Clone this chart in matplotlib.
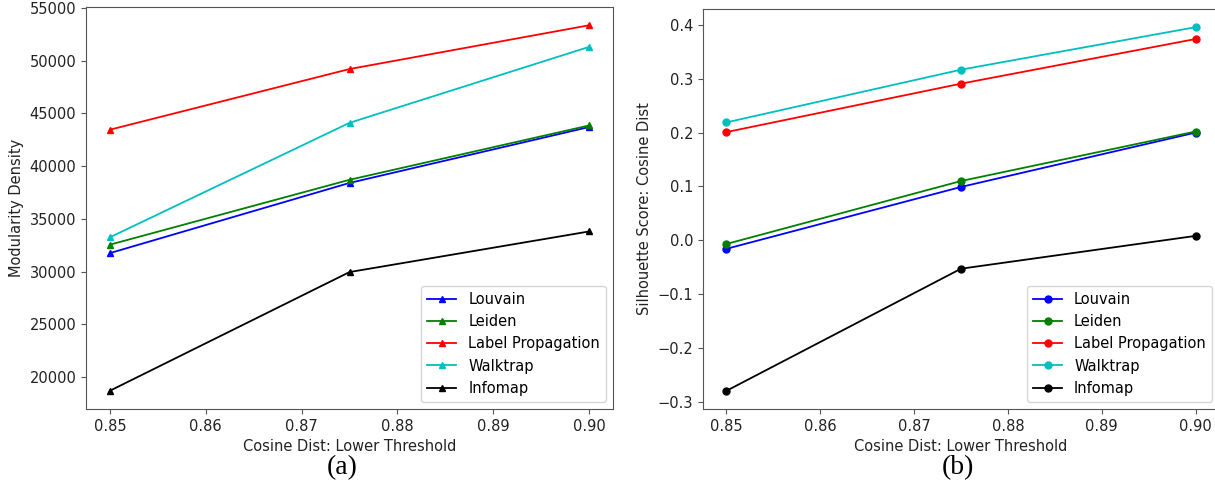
import matplotlib
matplotlib.use('Agg')
import matplotlib.pyplot as plt

thresholds = [0.85, 0.875, 0.90]
methods = ['Louvain', 'Leiden', 'Label Propagation', 'Walktrap', 'Infomap']
colors = ['b', 'g', 'r', 'c', 'k']

# (a) modularity density
louvain_md = [31750, 38400, 43700]
leiden_md = [32550, 38700, 43850]
labelprop_md = [43450, 49200, 53350]
walktrap_md = [33250, 44100, 51300]
infomap_md = [18700, 29950, 33800]

# (b) silhouette score
louvain_sil = [-0.016, 0.099, 0.200]
leiden_sil = [-0.007, 0.110, 0.202]
labelprop_sil = [0.201, 0.291, 0.374]
walktrap_sil = [0.219, 0.317, 0.396]
infomap_sil = [-0.280, -0.053, 0.008]

plt.rcParams['font.size'] = 10.5

W, H = 1215, 490
fig = plt.figure(figsize=(W / 100, H / 100), dpi=100)

ax1 = fig.add_axes([86 / W, (H - 409) / H, 527 / W, 402 / H])
# right panel runs just off the edge of the image, as in the source figure
ax2 = fig.add_axes([703 / W, (H - 409) / H, 516 / W, 400 / H])

md_series = [louvain_md, leiden_md, labelprop_md, walktrap_md, infomap_md]
sil_series = [louvain_sil, leiden_sil, labelprop_sil, walktrap_sil, infomap_sil]

for name, c, vals in zip(methods, colors, md_series):
    ax1.plot(thresholds, vals, color=c, marker='^', markersize=5, linewidth=1.3, label=name)
for name, c, vals in zip(methods, colors, sil_series):
    ax2.plot(thresholds, vals, color=c, marker='o', markersize=5, linewidth=1.3, label=name)

ax1.set_ylabel('Modularity Density')
ax2.set_ylabel('Silhouette Score: Cosine Dist')
for ax in (ax1, ax2):
    ax.set_xlabel('Cosine Dist: Lower Threshold')
    ax.set_xticks([0.85, 0.86, 0.87, 0.88, 0.89, 0.90])
    ax.set_xticklabels(['0.85', '0.86', '0.87', '0.88', '0.89', '0.90'])
    ax.legend(loc='lower right')
    for sp in ax.spines.values():
        sp.set_color('#555555')
    ax.tick_params(colors='#555555', labelcolor='#222222')
    ax.xaxis.label.set_color('#222222')
    ax.yaxis.label.set_color('#222222')

ax1.set_yticks(range(20000, 55001, 5000))
ax2.set_yticks([-0.3, -0.2, -0.1, 0.0, 0.1, 0.2, 0.3, 0.4])

fig.text(342 / W, 1 - 468 / H, '(a)', ha='center', va='center',
         family='Liberation Serif', fontsize=20)
fig.text(958 / W, 1 - 468 / H, '(b)', ha='center', va='center',
         family='Liberation Serif', fontsize=20)

fig.savefig('out.png', dpi=100)
